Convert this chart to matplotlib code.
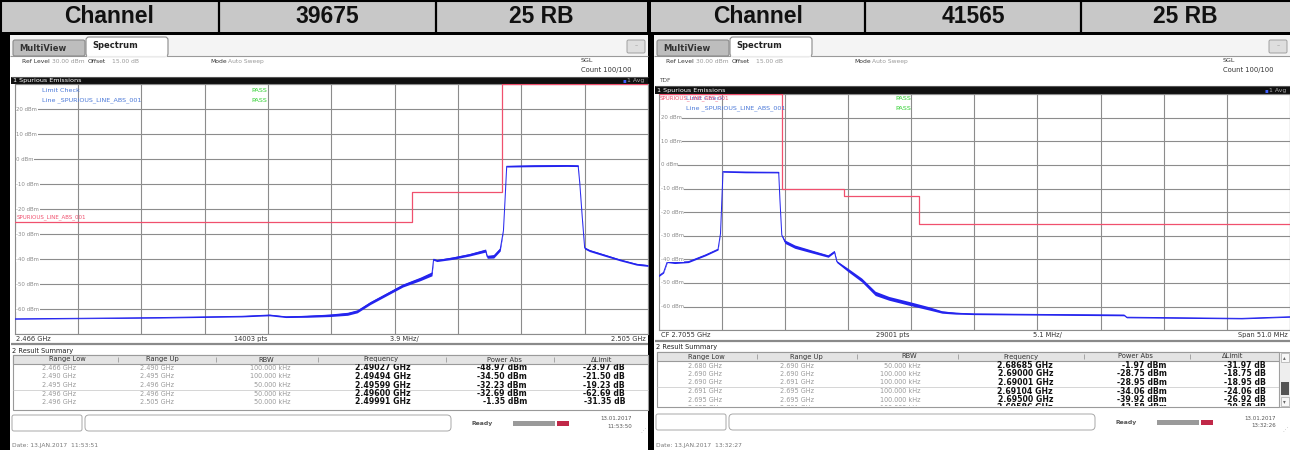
import matplotlib
matplotlib.use("Agg")
import matplotlib.pyplot as plt
from matplotlib.patches import Rectangle, FancyBboxPatch
import numpy as np

W, H = 1290, 450

# ---------------- data ----------------
header_left = ["Channel", "39675", "25 RB"]
header_right = ["Channel", "41565", "25 RB"]

# left spectrum trace: frequency (GHz), level (dBm), half noise width (dB)
left_freq = [2.4660, 2.4700, 2.4750, 2.4800, 2.4817, 2.4827, 2.4840, 2.4854, 2.4865, 2.4871,
             2.4879, 2.4889, 2.4899, 2.4910, 2.4917, 2.4918, 2.4920, 2.4930, 2.4940, 2.4950,
             2.4951, 2.4955, 2.4959, 2.4961, 2.4962, 2.4963, 2.4980, 2.5000, 2.5007, 2.5008,
             2.50095, 2.5011, 2.5014, 2.5023, 2.5033, 2.5043, 2.5050]
left_level = [-63.8, -63.6, -63.3, -62.8, -62.3, -63.0, -62.8, -62.4, -61.8, -60.8,
              -57.5, -54.0, -50.5, -47.8, -45.8, -40.0, -40.5, -39.5, -38.2, -36.5,
              -39.0, -38.8, -36.0, -28.5, -16.0, -2.8, -2.6, -2.5, -2.6, -9.6,
              -23.0, -35.5, -36.5, -38.3, -40.3, -42.0, -42.5]
left_spread = [0.15, 0.15, 0.2, 0.25, 0.3, 0.3, 0.4, 0.5, 0.6, 0.6,
               0.6, 0.6, 0.6, 0.7, 0.8, 0.4, 0.4, 0.5, 0.5, 0.6,
               0.6, 0.7, 0.7, 0.2, 0.2, 0.3, 0.35, 0.35, 0.3, 0.2,
               0.2, 0.4, 0.4, 0.4, 0.35, 0.35, 0.35]
left_limit_edges = [2.466, 2.4905, 2.496, 2.505]
left_limit_levels = [-25, -13, 30]

# right spectrum trace
right_freq = [2.6800, 2.6804, 2.6807, 2.6813, 2.6824, 2.6838, 2.6848, 2.6850, 2.6852, 2.6870,
              2.6897, 2.6898, 2.68995, 2.6902, 2.6910, 2.6924, 2.6937, 2.6942, 2.6944, 2.6953,
              2.6964, 2.6975, 2.6986, 2.7002, 2.7018, 2.7029, 2.7040, 2.7055, 2.7176, 2.7178,
              2.7271, 2.7310]
right_level = [-47.0, -45.5, -41.0, -41.4, -41.0, -38.1, -35.7, -29.0, -2.8, -3.0,
               -3.1, -14.8, -29.7, -32.5, -34.6, -36.7, -38.6, -36.7, -41.0, -44.5,
               -48.7, -54.4, -56.5, -58.6, -60.7, -62.3, -62.8, -63.1, -63.6, -64.5,
               -65.0, -64.3]
right_spread = [0.3, 0.3, 0.35, 0.35, 0.35, 0.35, 0.3, 0.2, 0.25, 0.3,
                0.25, 0.2, 0.2, 0.7, 0.7, 0.6, 0.5, 0.4, 0.4, 0.7,
                0.8, 0.9, 0.8, 0.8, 0.7, 0.5, 0.4, 0.3, 0.3, 0.25,
                0.2, 0.2]
right_limit_edges = [2.680, 2.690, 2.695, 2.701, 2.731]
right_limit_levels = [30, -10, -13, -25]

ylevels = [20, 10, 0, -10, -20, -30, -40, -50, -60]

table_cols = ["Range Low", "Range Up", "RBW", "Frequency", "Power Abs", "\u0394Limit"]
left_range_low = ["2.466 GHz", "2.490 GHz", "2.495 GHz", "2.496 GHz", "2.496 GHz"]
left_range_up = ["2.490 GHz", "2.495 GHz", "2.496 GHz", "2.496 GHz", "2.505 GHz"]
left_rbw = ["100.000 kHz", "100.000 kHz", "50.000 kHz", "50.000 kHz", "50.000 kHz"]
left_peak_freq = [2.49027, 2.49494, 2.49599, 2.49600, 2.49991]
left_power = [-48.97, -34.50, -32.23, -32.69, -1.35]
left_delta = [-23.97, -21.50, -19.23, -62.69, -31.35]

right_range_low = ["2.680 GHz", "2.690 GHz", "2.690 GHz", "2.691 GHz", "2.695 GHz", "2.695 GHz"]
right_range_up = ["2.690 GHz", "2.690 GHz", "2.691 GHz", "2.695 GHz", "2.695 GHz", "2.701 GHz"]
right_rbw = ["50.000 kHz", "100.000 kHz", "100.000 kHz", "100.000 kHz", "100.000 kHz", "100.000 kHz"]
right_peak_freq = [2.68685, 2.69000, 2.69001, 2.69104, 2.69500, 2.69586]
right_power = [-1.97, -28.75, -28.95, -34.06, -39.92, -42.58]
right_delta = [-31.97, -18.75, -18.95, -24.06, -26.92, -29.58]

# ---------------- figure ----------------
fig = plt.figure(figsize=(W / 100, H / 100), dpi=100, facecolor="black")
bg = fig.add_axes([0, 0, 1, 1], zorder=0)
fg = fig.add_axes([0, 0, 1, 1], zorder=10)
for a in (bg, fg):
    a.set_xlim(0, W)
    a.set_ylim(H, 0)
    a.axis("off")
bg.set_facecolor("black")
fg.patch.set_alpha(0)

UI = "DejaVu Sans"
BLUE = "#2424ee"
RED = "#f0506e"
GRID = "#8c8c8c"


def T(x, y, s, size, color="#222222", weight="normal", ha="left", va="center",
      family=UI, ax=None, **kw):
    ax = ax or fg
    return ax.text(x, y, s, fontsize=size, color=color, fontweight=weight, ha=ha,
                   va=va, family=family, **kw)


def rect(x, y, w, h, fc, ec="none", lw=0.8, z=1, ax=None):
    ax = ax or bg
    ax.add_patch(Rectangle((x, y), w, h, facecolor=fc, edgecolor=ec, lw=lw, zorder=z))


def hline(x0, x1, y, color, lw=0.8, z=2, ax=None):
    (ax or bg).plot([x0, x1], [y, y], color=color, lw=lw, zorder=z, solid_capstyle="butt")


def vline(x, y0, y1, color, lw=0.8, z=2, ax=None):
    (ax or bg).plot([x, x], [y0, y1], color=color, lw=lw, zorder=z, solid_capstyle="butt")


# ---------------- header ----------------
def header(xa, xb, dividers, labels):
    rect(xa, 0, xb - xa, 32, "#c8c8c8", z=1)
    edges = [xa] + dividers + [xb]
    for i, lab in enumerate(labels):
        cx = (edges[i] + edges[i + 1]) / 2
        T(cx, 16.5, lab, 16.5, color="#111111", weight="bold", ha="center",
          family="Liberation Sans")
    for d in dividers:
        vline(d, 0, 32, "black", lw=1.6, z=3)


header(0, 647, [219, 436], header_left)
header(651, 1290, [865, 1081], header_right)
hline(0, W, 0.6, "black", lw=1.5, z=3)
vline(0.7, 0, 34, "black", lw=1.5, z=3)


# ---------------- panel ----------------
def panel(cfg, freq, level, spread, edges, limits, f_lo, f_hi, xlabels,
          low, up, rbw, pfreq, power, delta, stamp, datetxt, scroll):
    x0, x1 = cfg["x0"], cfg["x1"]
    px0, px1, py0, py1 = cfg["plot"]
    # screen background
    rect(x0, 35, x1 - x0, H - 35, "white", z=1)
    # tab bar
    rect(x0, 35, x1 - x0, 21, "#f4f4f4", z=1)
    hline(x0, x1, 56, "#9a9a9a", lw=0.8, z=2)
    bg.add_patch(FancyBboxPatch((x0 + 3, 40), 72, 16,
                                boxstyle="round,pad=0,rounding_size=2",
                                fc="#bdbdbd", ec="#8a8a8a", lw=0.8, zorder=3))
    T(x0 + 9, 48.5, "MultiView", 6.0, color="#333333", weight="bold")
    bg.add_patch(FancyBboxPatch((x0 + 76, 37), 82, 19.5,
                                boxstyle="round,pad=0,rounding_size=3",
                                fc="white", ec="#8a8a8a", lw=0.8, zorder=3))
    hline(x0 + 76.6, x0 + 157.4, 56.2, "white", lw=1.2, z=4)
    T(x0 + 82, 45.5, "Spectrum", 6.0, color="#222222", weight="bold")
    bg.add_patch(FancyBboxPatch((x1 - 21, 40), 18, 13,
                                boxstyle="round,pad=0,rounding_size=1.5",
                                fc="#dedede", ec="#a0a0a0", lw=0.7, zorder=3))
    T(x1 - 12, 46, "\u2013", 4.5, color="#888888", ha="center")
    # info line
    iy = 61.5
    T(x0 + 12, iy, "Ref Level", 4.3, color="#333333")
    T(x0 + 42, iy, "30.00 dBm", 4.3, color="#999999")
    T(x0 + 78, iy, "Offset", 4.3, color="#333333")
    T(x0 + 102, iy, "15.00 dB", 4.3, color="#999999")
    T(x0 + 200, iy, "Mode", 4.3, color="#333333")
    T(x0 + 218, iy, "Auto Sweep", 4.3, color="#999999")
    T(x1 - 67, 61, "SGL", 4.6, color="#333333")
    T(x1 - 67, 70, "Count 100/100", 4.9, color="#333333")
    if cfg["tdf"]:
        T(x0 + 5, 80, "TDF", 4.2, color="#555555")
    # title bar
    b0, b1 = cfg["bar"]
    rect(x0 + 1, b0, x1 - x0 - 1, b1 - b0, "#101010", z=2)
    hline(x0 + 1, x1, b0 + 0.3, "#555555", lw=0.8, z=3)
    T(x0 + 3, (b0 + b1) / 2, "1 Spurious Emissions", 4.6, color="white")
    T(x1 - 4, (b0 + b1) / 2, "1 Avg", 4.4, color="#aaaaaa", ha="right")
    T(x1 - 22, (b0 + b1) / 2, "\u25aa", 4.0, color="#4060ff", ha="right")

    # plot
    ax = fig.add_axes([px0 / W, 1 - py1 / H, (px1 - px0) / W, (py1 - py0) / H], zorder=5)
    ax.set_facecolor("white")
    ax.set_xlim(f_lo, f_hi)
    ax.set_ylim(-70, 30)
    ax.set_xticks(np.linspace(f_lo, f_hi, 11))
    ax.set_yticks(np.arange(-70, 31, 10))
    ax.tick_params(length=0, labelbottom=False, labelleft=False)
    ax.grid(True, color=GRID, lw=0.8)
    ax.set_axisbelow(True)
    for s in ax.spines.values():
        s.set_color(GRID)
        s.set_linewidth(0.8)
    fr = np.array(freq)
    lv = np.array(level)
    sp = np.array(spread)
    ax.fill_between(fr, lv - sp, lv + sp, color=BLUE, lw=0, zorder=3)
    ax.plot(fr, lv, color=BLUE, lw=0.7, zorder=4)
    ax.step(edges, list(limits) + [limits[-1]], where="post", color=RED, lw=0.9, zorder=5)

    def ypx(v):
        return py0 + (30 - v) / 100.0 * (py1 - py0)

    for v in ylevels:
        T(px0 + 2, ypx(v), f"{v} dBm", 3.9, color="#8a8a8a",
          bbox=dict(fc="white", ec="none", pad=0.2))
    # limit check text
    ly = cfg["lc_y"]
    T(px0 + 27, ly, "Limit Check", 4.6, color="#4a78d8")
    T(px0 + 27, ly + 10, "Line _SPURIOUS_LINE_ABS_001", 4.6, color="#4a78d8")
    T(px0 + 237, ly, "PASS", 4.6, color="#30d030")
    T(px0 + 237, ly + 10, "PASS", 4.6, color="#30d030")
    rl = cfg["red_label"]
    T(rl[0], rl[1], "SPURIOUS_LINE_ABS_001", 4.0, color=RED)

    # x label bar
    xb0, xb1 = cfg["xbar"]
    rect(x0 + 1, xb0, x1 - x0 - 1, xb1 - xb0, "white", z=2)
    hline(x0 + 1, x1, xb1 + 1, "#8a8a8a", lw=1.6, z=3)
    xm = (xb0 + xb1) / 2
    T(px0 + 2, xm, xlabels[0], 4.8, color="#333333")
    T(cfg["pts_x"], xm, xlabels[1], 4.8, color="#333333")
    T(cfg["div_x"], xm, xlabels[2], 4.8, color="#333333")
    T(x1 - 2, xm, xlabels[3], 4.8, color="#333333", ha="right")

    # result summary
    T(x0 + 2, cfg["sum_y"], "2 Result Summary", 4.8, color="#222222")
    th0, th1 = cfg["thead"]
    tb = cfg["tbottom"]
    rect(x0 + 3, th0, cfg["tright"] - x0 - 3, tb - th0, "white", ec="#9a9a9a", lw=0.8, z=2)
    rect(x0 + 3, th0, cfg["tright"] - x0 - 3, th1 - th0, "#e4e4e4", ec="#9a9a9a", lw=0.8, z=3)
    for c, name in zip(cfg["hdr_x"], table_cols):
        T(c, (th0 + th1) / 2, name, 4.9, color="#333333", ha="center")
    for sx in cfg["sep_x"]:
        vline(sx, th0 + 2, th1 - 2, "#9a9a9a", lw=0.6, z=4)
    hline(x0 + 3, cfg["tright"], cfg["rows_y"][2] + 4.5, "#cfcfcf", lw=0.6, z=3)
    rx = cfg["val_x"]
    clip = Rectangle((x0, th1), x1 - x0, tb - th1 - 0.8, transform=fg.transData)
    for i in range(len(low)):
        yy = cfg["rows_y"][i]
        cells = [(low[i], "#9a9a9a", "normal", 4.7), (up[i], "#9a9a9a", "normal", 4.7),
                 (rbw[i], "#9a9a9a", "normal", 4.7),
                 (f"{pfreq[i]:.5f} GHz", "#111111", "bold", 5.6),
                 (f"{power[i]:.2f} dBm", "#111111", "bold", 5.6),
                 (f"{delta[i]:.2f} dB", "#111111", "bold", 5.6)]
        for (s, col, wt, fs), xx in zip(cells, rx):
            t = T(xx, yy, s, fs, color=col, weight=wt, ha="right", clip_on=True)
            t.set_clip_path(clip)
    if scroll:
        sx0 = cfg["tright"]
        rect(sx0, th0, x1 - sx0, tb - th0, "#eeeeee", ec="#9a9a9a", lw=0.6, z=3)
        rect(sx0 + 1.5, th0 + 1, x1 - sx0 - 3, 9, "#f8f8f8", ec="#aaaaaa", lw=0.5, z=4)
        rect(sx0 + 1.5, tb - 10, x1 - sx0 - 3, 9, "#f8f8f8", ec="#aaaaaa", lw=0.5, z=4)
        rect(sx0 + 1.5, th0 + 30, x1 - sx0 - 3, 13, "#555555", z=4)
        T(sx0 + 5, th0 + 5.5, "\u25b4", 4, color="#666666", ha="center")
        T(sx0 + 5, tb - 5.5, "\u25be", 4, color="#666666", ha="center")

    # status bar
    s0, s1 = cfg["status"]
    bg.add_patch(FancyBboxPatch((x0 + 2, s0 + 2), 70, s1 - s0 - 4,
                                boxstyle="round,pad=0,rounding_size=2",
                                fc="white", ec="#a8a8a8", lw=0.7, zorder=3))
    bg.add_patch(FancyBboxPatch((x0 + 75, s0 + 2), 366, s1 - s0 - 4,
                                boxstyle="round,pad=0,rounding_size=4",
                                fc="white", ec="#a8a8a8", lw=0.7, zorder=3))
    sm = (s0 + s1) / 2
    T(x0 + 461, sm + 0.5, "Ready", 4.4, color="#555555", weight="bold")
    rect(x0 + 503, sm - 2.5, 42, 5, "#9a9a9a", z=3)
    rect(x0 + 547, sm - 2.5, 12, 5, "#c02848", z=3)
    T(x0 + 622, sm - 4, stamp[0], 4.0, color="#555555", ha="right")
    T(x0 + 622, sm + 3.5, stamp[1], 4.0, color="#555555", ha="right")
    T(x1 - 5, s1 - 3, "\u22f0", 4.0, color="#aaaaaa", ha="center")
    T(x0 + 2, cfg["date_y"], datetxt, 4.3, color="#777777")
    return ax


left_cfg = dict(
    x0=10, x1=648, plot=(14.5, 648, 84.3, 334.3), bar=(77, 84.3), tdf=False,
    lc_y=90, red_label=(17, 217), xbar=(334.3, 343), pts_x=234, div_x=390,
    sum_y=351, thead=(355, 364), tbottom=410, tright=648,
    hdr_x=[67, 162, 266, 381, 504, 602], sep_x=[118, 216, 318, 446, 554],
    val_x=[76, 174, 290, 411, 527, 625],
    rows_y=[368, 376.5, 385, 393.5, 402], status=(413, 433), date_y=446)

right_cfg = dict(
    x0=654, x1=1290, plot=(658.6, 1290, 94.2, 330.2), bar=(86, 94.2), tdf=True,
    lc_y=98.5, red_label=(660, 98.5), xbar=(330.2, 340), pts_x=876, div_x=1033,
    sum_y=347.5, thead=(352, 361), tbottom=407, tright=1279,
    hdr_x=[706, 806, 909, 1021, 1135, 1233], sep_x=[757, 857, 958, 1084, 1190],
    val_x=[722, 814, 921, 1053, 1167, 1266],
    rows_y=[365.5, 374, 382.5, 391, 399.5, 408], status=(412, 432), date_y=445)

panel(left_cfg, left_freq, left_level, left_spread, left_limit_edges, left_limit_levels,
      2.466, 2.505, ["2.466 GHz", "14003 pts", "3.9 MHz/", "2.505 GHz"],
      left_range_low, left_range_up, left_rbw, left_peak_freq, left_power, left_delta,
      ["13.01.2017", "11:53:50"], "Date: 13.JAN.2017  11:53:51", False)

panel(right_cfg, right_freq, right_level, right_spread, right_limit_edges, right_limit_levels,
      2.680, 2.731, ["CF 2.7055 GHz", "29001 pts", "5.1 MHz/", "Span 51.0 MHz"],
      right_range_low, right_range_up, right_rbw, right_peak_freq, right_power, right_delta,
      ["13.01.2017", "13:32:26"], "Date: 13.JAN.2017  13:32:27", True)

fig.savefig("out.png", dpi=100, facecolor="black")
